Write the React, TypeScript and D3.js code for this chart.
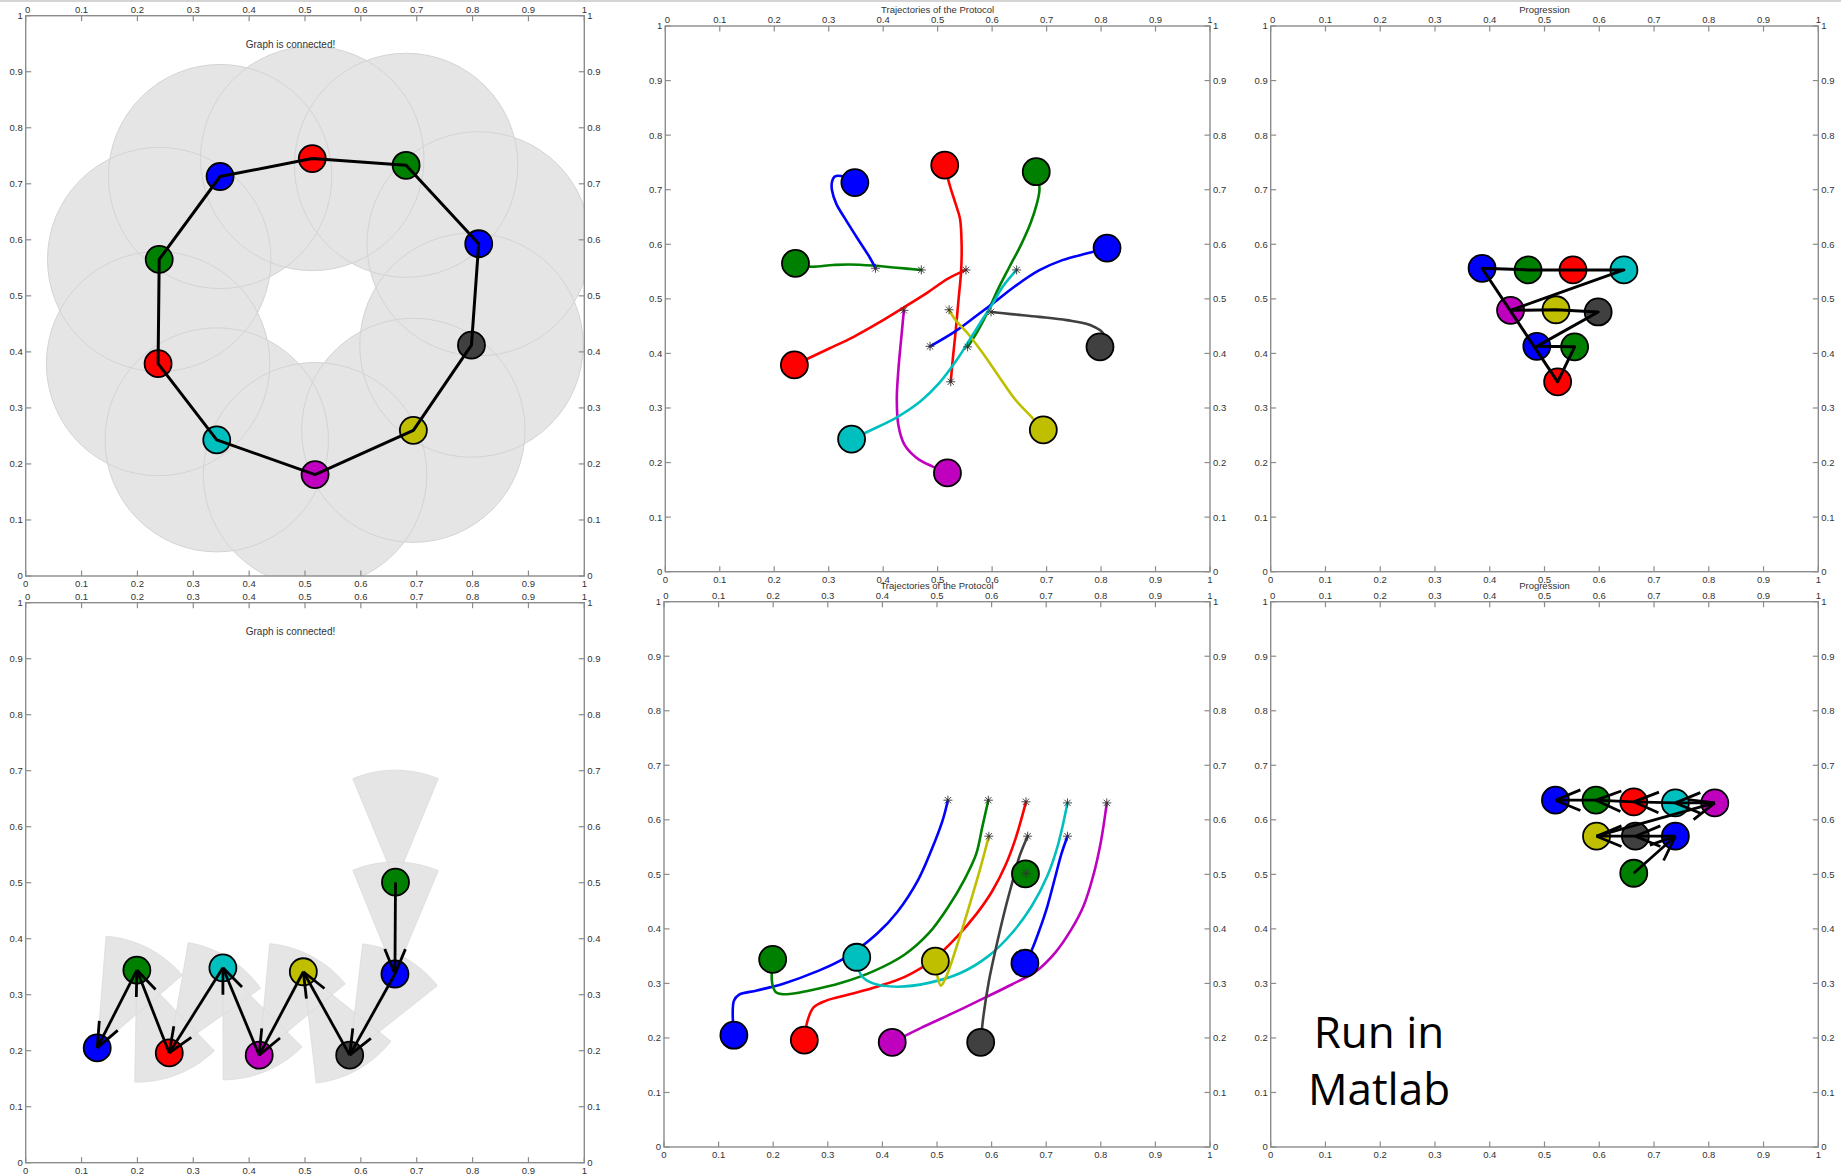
import React from "react";
import * as d3 from "d3";

// ---------- tick labels ----------
const TICK_VALUES = [0, 0.1, 0.2, 0.3, 0.4, 0.5, 0.6, 0.7, 0.8, 0.9, 1];
const TICK_LABELS = ["0", "0.1", "0.2", "0.3", "0.4", "0.5", "0.6", "0.7", "0.8", "0.9", "1"];

// ---------- top row: ring formation ----------
const RING_COLORS = ["#008000", "#0000ff", "#ff0000", "#008000", "#0000ff", "#404040", "#bfbf00", "#bf00bf", "#00bfbf", "#ff0000"];
const RING_START_X = [0.239, 0.348, 0.513, 0.681, 0.811, 0.798, 0.694, 0.518, 0.342, 0.237];
const RING_START_Y = [0.565, 0.713, 0.745, 0.733, 0.593, 0.412, 0.26, 0.181, 0.243, 0.379];
const RING_END_X = [0.47, 0.386, 0.524, 0.555, 0.486, 0.598, 0.521, 0.438, 0.645, 0.552];
const RING_END_Y = [0.553, 0.556, 0.348, 0.412, 0.413, 0.476, 0.48, 0.479, 0.553, 0.553];
const RING_PATH_MID: [number, number][][] = [
  [[0.265, 0.559], [0.308, 0.562], [0.337, 0.563], [0.381, 0.561], [0.425, 0.557]],
  [[0.323, 0.725], [0.311, 0.724], [0.306, 0.714], [0.306, 0.699], [0.314, 0.674], [0.33, 0.647], [0.352, 0.612], [0.374, 0.578]],
  [[0.522, 0.709], [0.533, 0.674], [0.541, 0.647], [0.544, 0.599], [0.543, 0.55], [0.538, 0.495], [0.533, 0.44], [0.528, 0.392]],
  [[0.687, 0.702], [0.682, 0.674], [0.671, 0.64], [0.653, 0.599], [0.631, 0.557], [0.61, 0.516], [0.591, 0.474], [0.573, 0.44]],
  [[0.773, 0.583], [0.729, 0.571], [0.686, 0.552], [0.642, 0.523], [0.606, 0.495], [0.57, 0.468], [0.533, 0.441]],
  [[0.805, 0.435], [0.78, 0.452], [0.737, 0.461], [0.686, 0.467], [0.635, 0.472]],
  [[0.671, 0.285], [0.642, 0.316], [0.613, 0.357], [0.584, 0.399], [0.555, 0.437], [0.533, 0.461]],
  [[0.49, 0.193], [0.461, 0.209], [0.439, 0.233], [0.428, 0.268], [0.425, 0.316], [0.428, 0.371], [0.433, 0.426]],
  [[0.381, 0.261], [0.425, 0.283], [0.468, 0.312], [0.504, 0.347], [0.533, 0.385], [0.555, 0.419], [0.577, 0.454], [0.599, 0.488], [0.62, 0.523]],
  [[0.265, 0.392], [0.301, 0.409], [0.345, 0.43], [0.388, 0.454], [0.439, 0.485], [0.482, 0.512], [0.519, 0.537]],
];
const SENSING_RADIUS = 0.2;

// ---------- bottom row: line / chain formation ----------
const LINE_COLORS = ["#0000ff", "#008000", "#ff0000", "#00bfbf", "#bf00bf", "#bfbf00", "#404040", "#0000ff", "#008000"];
const LINE_START_X = [0.128, 0.199, 0.257, 0.353, 0.418, 0.497, 0.58, 0.661, 0.662];
const LINE_START_Y = [0.205, 0.344, 0.196, 0.348, 0.192, 0.341, 0.192, 0.337, 0.501];
const LINE_END_X = [0.52, 0.594, 0.663, 0.739, 0.811, 0.595, 0.666, 0.739, 0.663];
const LINE_END_Y = [0.636, 0.636, 0.633, 0.631, 0.631, 0.57, 0.57, 0.57, 0.502];
const LINE_LEADER = [1, 2, 3, 4, 5, 6, 7, 8, -1];
const LINE_PATH_MID: [number, number][][] = [
  [[0.128, 0.268], [0.137, 0.279], [0.17, 0.287], [0.22, 0.3], [0.28, 0.322], [0.33, 0.346], [0.39, 0.391], [0.428, 0.432], [0.465, 0.489], [0.49, 0.545], [0.51, 0.598]],
  [[0.198, 0.301], [0.205, 0.284], [0.224, 0.28], [0.267, 0.287], [0.325, 0.301], [0.383, 0.322], [0.441, 0.353], [0.485, 0.392], [0.521, 0.441], [0.55, 0.49], [0.572, 0.538], [0.583, 0.587]],
  [[0.263, 0.232], [0.274, 0.256], [0.296, 0.268], [0.34, 0.28], [0.39, 0.294], [0.441, 0.312], [0.492, 0.343], [0.536, 0.385], [0.572, 0.427], [0.601, 0.469], [0.626, 0.518], [0.644, 0.566]],
  [[0.361, 0.315], [0.383, 0.3], [0.427, 0.294], [0.485, 0.301], [0.543, 0.319], [0.594, 0.35], [0.637, 0.392], [0.673, 0.441], [0.702, 0.497], [0.721, 0.552]],
  [[0.47, 0.218], [0.528, 0.245], [0.586, 0.273], [0.637, 0.298], [0.681, 0.322], [0.717, 0.357], [0.746, 0.399], [0.768, 0.441], [0.786, 0.497], [0.8, 0.559]],
  [[0.501, 0.312], [0.507, 0.296], [0.515, 0.308], [0.528, 0.343], [0.546, 0.399], [0.565, 0.462], [0.579, 0.51]],
  [[0.585, 0.24], [0.595, 0.304], [0.61, 0.374], [0.625, 0.437], [0.64, 0.493], [0.651, 0.533]],
  [[0.673, 0.36], [0.688, 0.399], [0.702, 0.441], [0.717, 0.497], [0.728, 0.538]],
  [],
];
const SECTOR_RADIUS = 0.2;
const SECTOR_HALF_ANGLE_DEG = 22.5;

// ---------- texts ----------
const CONNECTED_TEXT = "Graph is connected!";
const CONNECTED_POS = [0.474, 0.948];
const TITLE_TRAJ = "Trajectories of the Protocol";
const TITLE_PROG = "Progression";
const NOTE_LINES = ["Run in", "Matlab"];

// ---------- layout ----------
const W = 1841;
const H = 1176;
type Box = { left: number; right: number; top: number; bottom: number; clipL: number; clipR: number };
const BOXES: Record<string, Box> = {
  TL: { left: 25.7, right: 584.3, top: 15.7, bottom: 576, clipL: 0, clipR: 601 },
  TM: { left: 665.3, right: 1210, top: 26, bottom: 571.7, clipL: 601, clipR: 1227 },
  TR: { left: 1270.7, right: 1818.3, top: 26, bottom: 571.7, clipL: 1227, clipR: 1841 },
  BL: { left: 25.7, right: 584.3, top: 602.7, bottom: 1162.7, clipL: 0, clipR: 601 },
  BM: { left: 664, right: 1210, top: 601.7, bottom: 1147, clipL: 601, clipR: 1227 },
  BR: { left: 1270.7, right: 1818.3, top: 601.7, bottom: 1147, clipL: 1227, clipR: 1841 },
};

const FONT = '"Liberation Sans", Arial, Helvetica, sans-serif';
const NODE_R = 13.5;

function scales(b: Box) {
  const x = d3.scaleLinear().domain([0, 1]).range([b.left, b.right]);
  const y = d3.scaleLinear().domain([0, 1]).range([b.bottom, b.top]);
  return { x, y };
}

function Frame({ b, title }: { b: Box; title?: string }) {
  const { x, y } = scales(b);
  const tl = 5.5;
  const st = { stroke: "#8c8c8c", strokeWidth: 1.2 };
  const tx = { fontFamily: FONT, fontSize: 9.5, fill: "#333" } as any;
  return (
    <g>
      <rect x={b.left} y={b.top} width={b.right - b.left} height={b.bottom - b.top} fill="none" {...st} strokeWidth={1.4} />
      {TICK_VALUES.map((t, i) => (
        <g key={i}>
          <line x1={x(t)} x2={x(t)} y1={b.bottom} y2={b.bottom - tl} {...st} />
          <line x1={x(t)} x2={x(t)} y1={b.top} y2={b.top + tl} {...st} />
          <line y1={y(t)} y2={y(t)} x1={b.left} x2={b.left + tl} {...st} />
          <line y1={y(t)} y2={y(t)} x1={b.right} x2={b.right - tl} {...st} />
          <text x={x(t)} y={b.bottom + 11} textAnchor="middle" {...tx}>{TICK_LABELS[i]}</text>
          <text x={x(t) + (i === 0 ? 2 : 0)} y={b.top - 3} textAnchor="middle" {...tx}>{TICK_LABELS[i]}</text>
          <text x={b.left - 3} y={y(t) + 3.4} textAnchor="end" {...tx}>{TICK_LABELS[i]}</text>
          <text x={b.right + 3} y={y(t) + 3.4} textAnchor="start" {...tx}>{TICK_LABELS[i]}</text>
        </g>
      ))}
      {title && (
        <text x={(b.left + b.right) / 2} y={b.top - 13} textAnchor="middle" {...tx}>{title}</text>
      )}
    </g>
  );
}

function Asterisk({ cx, cy }: { cx: number; cy: number }) {
  const r = 4.5;
  return (
    <g stroke="#333" strokeWidth={0.9}>
      {[0, 45, 90, 135].map((a) => {
        const rad = (a * Math.PI) / 180;
        return <line key={a} x1={cx - r * Math.cos(rad)} y1={cy - r * Math.sin(rad)} x2={cx + r * Math.cos(rad)} y2={cy + r * Math.sin(rad)} />;
      })}
    </g>
  );
}

function Node({ cx, cy, color }: { cx: number; cy: number; color: string }) {
  return <circle cx={cx} cy={cy} r={NODE_R} fill={color} stroke="#000" strokeWidth={1.8} />;
}

function Arrows({ b, xs, ys }: { b: Box; xs: number[]; ys: number[] }) {
  const { x, y } = scales(b);
  const len = 27;
  const h = (SECTOR_HALF_ANGLE_DEG * Math.PI) / 180;
  return (
    <g stroke="#000" strokeWidth={2.8} strokeLinecap="butt">
      {LINE_LEADER.map((l, i) => {
        if (l < 0) return null;
        const px = x(xs[i]), py = y(ys[i]);
        const lx = x(xs[l]), ly = y(ys[l]);
        const th = Math.atan2(ly - py, lx - px);
        return (
          <g key={i}>
            <line x1={lx} y1={ly} x2={px} y2={py} />
            <line x1={px} y1={py} x2={px + len * Math.cos(th + h)} y2={py + len * Math.sin(th + h)} />
            <line x1={px} y1={py} x2={px + len * Math.cos(th - h)} y2={py + len * Math.sin(th - h)} />
          </g>
        );
      })}
    </g>
  );
}

function RingEdges({ b, xs, ys }: { b: Box; xs: number[]; ys: number[] }) {
  const { x, y } = scales(b);
  const pts = xs.map((v, i) => [x(v), y(ys[i])] as [number, number]);
  const line = d3.line().curve(d3.curveLinearClosed);
  return <path d={line(pts) || ""} fill="none" stroke="#000" strokeWidth={3} strokeLinejoin="round" />;
}

function TopLeft() {
  const b = BOXES.TL;
  const { x, y } = scales(b);
  const rx = x(SENSING_RADIUS) - x(0);
  const ry = y(0) - y(SENSING_RADIUS);
  return (
    <g>
      <g clipPath="url(#data-TL)">
        {RING_START_X.map((v, i) => (
          <ellipse key={"f" + i} cx={x(v)} cy={y(RING_START_Y[i])} rx={rx} ry={ry} fill="#e5e5e5" />
        ))}
        {RING_START_X.map((v, i) => (
          <ellipse key={"s" + i} cx={x(v)} cy={y(RING_START_Y[i])} rx={rx} ry={ry} fill="none" stroke="#d3d3d3" strokeWidth={1} />
        ))}
      </g>
      {RING_START_X.map((v, i) => (
        <Node key={i} cx={x(v)} cy={y(RING_START_Y[i])} color={RING_COLORS[i]} />
      ))}
      <RingEdges b={b} xs={RING_START_X} ys={RING_START_Y} />
      <text x={x(CONNECTED_POS[0])} y={y(CONNECTED_POS[1]) + 3.5} textAnchor="middle" fontFamily={FONT} fontSize={10} fill="#333">{CONNECTED_TEXT}</text>
      <Frame b={b} />
    </g>
  );
}

function Trajectories({ b, sx, sy, ex, ey, mids, colors }: any) {
  const { x, y } = scales(b);
  const line = d3.line().curve(d3.curveCatmullRom.alpha(0.5));
  return (
    <g>
      {sx.map((v: number, i: number) => {
        const pts: [number, number][] = [[v, sy[i]], ...mids[i], [ex[i], ey[i]]].map((p: number[]) => [x(p[0]), y(p[1])]);
        if (mids[i].length === 0) return null;
        return <path key={i} d={line(pts) || ""} fill="none" stroke={colors[i]} strokeWidth={2.6} strokeLinejoin="round" strokeLinecap="round" />;
      })}
      {sx.map((v: number, i: number) => (
        <Node key={"n" + i} cx={x(v)} cy={y(sy[i])} color={colors[i]} />
      ))}
      {ex.map((v: number, i: number) => (
        <Asterisk key={"a" + i} cx={x(v)} cy={y(ey[i])} />
      ))}
    </g>
  );
}

function TopMiddle() {
  const b = BOXES.TM;
  return (
    <g>
      <Trajectories b={b} sx={RING_START_X} sy={RING_START_Y} ex={RING_END_X} ey={RING_END_Y} mids={RING_PATH_MID} colors={RING_COLORS} />
      <Frame b={b} title={TITLE_TRAJ} />
    </g>
  );
}

function TopRight() {
  const b = BOXES.TR;
  const { x, y } = scales(b);
  return (
    <g>
      {RING_END_X.map((v, i) => (
        <Node key={i} cx={x(v)} cy={y(RING_END_Y[i])} color={RING_COLORS[i]} />
      ))}
      <RingEdges b={b} xs={RING_END_X} ys={RING_END_Y} />
      <Frame b={b} title={TITLE_PROG} />
    </g>
  );
}

function BottomLeft() {
  const b = BOXES.BL;
  const { x, y } = scales(b);
  const h = (SECTOR_HALF_ANGLE_DEG * Math.PI) / 180;
  const sectors = LINE_START_X.map((px, i) => {
    const py = LINE_START_Y[i];
    const l = LINE_LEADER[i];
    const phi = l >= 0 ? Math.atan2(LINE_START_Y[l] - py, LINE_START_X[l] - px) : Math.PI / 2;
    const pts: [number, number][] = [[x(px), y(py)]];
    d3.range(0, 41).forEach((k) => {
      const a = phi - h + (2 * h * k) / 40;
      pts.push([x(px + SECTOR_RADIUS * Math.cos(a)), y(py + SECTOR_RADIUS * Math.sin(a))]);
    });
    return d3.line()(pts) + "Z";
  });
  return (
    <g>
      <g clipPath="url(#data-BL)">
        {sectors.map((d, i) => <path key={"f" + i} d={d} fill="#e5e5e5" />)}
        {sectors.map((d, i) => <path key={"s" + i} d={d} fill="none" stroke="#dadada" strokeWidth={0.8} />)}
      </g>
      {LINE_START_X.map((v, i) => (
        <Node key={i} cx={x(v)} cy={y(LINE_START_Y[i])} color={LINE_COLORS[i]} />
      ))}
      <Arrows b={b} xs={LINE_START_X} ys={LINE_START_Y} />
      <text x={x(CONNECTED_POS[0])} y={y(CONNECTED_POS[1]) + 3.5} textAnchor="middle" fontFamily={FONT} fontSize={10} fill="#333">{CONNECTED_TEXT}</text>
      <Frame b={b} />
    </g>
  );
}

function BottomMiddle() {
  const b = BOXES.BM;
  return (
    <g>
      <Trajectories b={b} sx={LINE_START_X} sy={LINE_START_Y} ex={LINE_END_X} ey={LINE_END_Y} mids={LINE_PATH_MID} colors={LINE_COLORS} />
      <Frame b={b} title={TITLE_TRAJ} />
    </g>
  );
}

function BottomRight() {
  const b = BOXES.BR;
  const { x, y } = scales(b);
  return (
    <g>
      {LINE_END_X.map((v, i) => (
        <Node key={i} cx={x(v)} cy={y(LINE_END_Y[i])} color={LINE_COLORS[i]} />
      ))}
      <Arrows b={b} xs={LINE_END_X} ys={LINE_END_Y} />
      <Frame b={b} title={TITLE_PROG} />
      {NOTE_LINES.map((s, i) => (
        <text key={i} x={1379} y={1047.5 + i * 57.5} textAnchor="middle" fontFamily='"Open Sans", "Noto Sans", sans-serif' fontSize={44} fill="#000">{s}</text>
      ))}
    </g>
  );
}

export default function App() {
  return (
    <svg width={W} height={H} style={{ position: "absolute", left: 0, top: 0, display: "block", background: "#fff" }}>
      <defs>
        {Object.entries(BOXES).map(([k, b]) => (
          <React.Fragment key={k}>
            <clipPath id={"panel-" + k}>
              <rect x={b.clipL} y={0} width={b.clipR - b.clipL} height={H} />
            </clipPath>
            <clipPath id={"data-" + k}>
              <rect x={b.left} y={b.top} width={b.right - b.left} height={b.bottom - b.top} />
            </clipPath>
          </React.Fragment>
        ))}
      </defs>
      <rect x={0} y={0} width={W} height={H} fill="#fff" />
      <rect x={0} y={0} width={W} height={2} fill="#d4d4d4" />
      <g clipPath="url(#panel-TL)"><TopLeft /></g>
      <g clipPath="url(#panel-TM)"><TopMiddle /></g>
      <g clipPath="url(#panel-TR)"><TopRight /></g>
      <g clipPath="url(#panel-BL)"><BottomLeft /></g>
      <g clipPath="url(#panel-BM)"><BottomMiddle /></g>
      <g clipPath="url(#panel-BR)"><BottomRight /></g>
    </svg>
  );
}
